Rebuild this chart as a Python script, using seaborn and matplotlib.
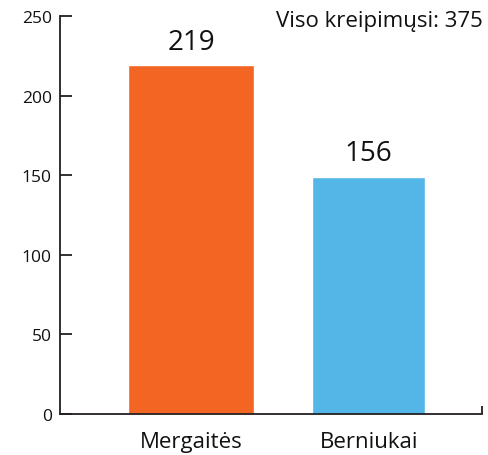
import matplotlib
matplotlib.use("Agg")
import matplotlib.pyplot as plt
import seaborn as sns
import pandas as pd
from matplotlib.ticker import FixedLocator

# Data
categories = ["Mergaitės", "Berniukai"]
bar_heights = [219, 149]          # heights as drawn in the picture
bar_labels = ["219", "156"]       # value labels printed above bars
y_ticks = [0, 50, 100, 150, 200, 250]
total_text = "Viso kreipimųsi: 375"

colors = ["#F26522", "#53B6E7"]
bar_widths = [0.71, 0.64]

sns.set_theme(style="white")
plt.rcParams["font.family"] = ["Open Sans", "DejaVu Sans"]

fig = plt.figure(figsize=(4.88, 4.56), dpi=100)
ax = fig.add_axes([0.123, 0.0899, 0.865, 0.8728])

df = pd.DataFrame({"cat": categories, "val": bar_heights})
sns.barplot(data=df, x="cat", y="val", hue="cat", palette=colors,
            legend=False, ax=ax, width=0.7, saturation=1)

# per-bar widths
for patch, w in zip(ax.patches, bar_widths):
    cx = patch.get_x() + patch.get_width() / 2
    patch.set_width(w)
    patch.set_x(cx - w / 2)

for cont, lab in zip(ax.containers, bar_labels):
    ax.bar_label(cont, labels=[lab], padding=7, fontsize=20, color="#111111")

ax.set_xlim(-0.738, 1.639)
ax.set_ylim(0, 250)
ax.set_yticks(y_ticks)
ax.set_yticklabels([str(t) for t in y_ticks], fontsize=12.5, color="#111111")
ax.tick_params(axis="y", direction="in", length=8.6, width=1.3,
               color="#231f20", pad=6, left=True)
ax.tick_params(axis="x", which="major", length=0, pad=12, labelsize=16,
               labelcolor="#111111")
ax.xaxis.set_minor_locator(FixedLocator([1.639]))
ax.tick_params(axis="x", which="minor", direction="in", length=6,
               width=1.3, color="#231f20", bottom=True)
ax.set_xlabel("")
ax.set_ylabel("")

for s in ["top", "right"]:
    ax.spines[s].set_visible(False)
for s in ["left", "bottom"]:
    ax.spines[s].set_color("#231f20")
    ax.spines[s].set_linewidth(1.3)

fig.text(0.99, 0.953, total_text, ha="right", va="center",
         fontsize=16, color="#111111")

fig.savefig("out.png", dpi=100)
